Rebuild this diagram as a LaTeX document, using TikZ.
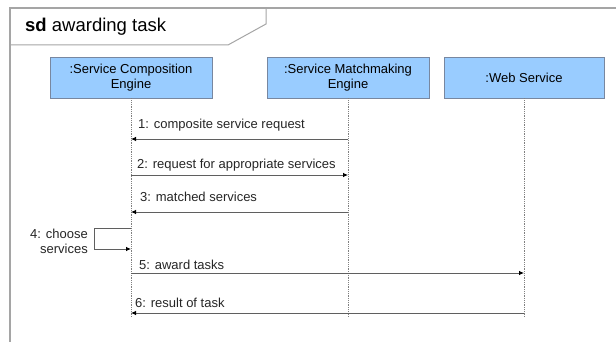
\documentclass[tikz,border=0pt]{standalone}
\usepackage{fontspec}
\setmainfont{Liberation Sans}
\usetikzlibrary{arrows.meta}
\definecolor{boxfill}{RGB}{153,204,255}
\definecolor{boxdraw}{RGB}{120,135,160}
\definecolor{framec}{RGB}{165,165,165}
\definecolor{msgc}{RGB}{95,95,95}
\begin{document}
\begin{tikzpicture}[x=1pt,y=-1pt,
  lifebox/.style={draw=boxdraw, fill=boxfill, minimum width=162pt, minimum height=41pt, align=center, font=\fontsize{13}{15}\selectfont, inner sep=0pt, line width=0.8pt},
  lifeline/.style={draw=gray, densely dotted, line width=0.8pt},
  msg/.style={draw=msgc, line width=0.8pt, -{Latex[length=5pt,width=4.5pt,color=black]}},
  lbl/.style={font=\fontsize{13}{15}\selectfont, inner sep=0pt, text=black!85}]
\useasboundingbox (0,0) rectangle (616,342);
\fill[white] (0,0) rectangle (616,342);
\begin{scope}
\clip (0,0) rectangle (616,342);
\draw[framec, line width=1.5pt] (10,346) -- (10,8) -- (622,8);
\end{scope}
\draw[framec, line width=1pt] (10,45) -- (228,45) -- (266,24) -- (266,8);
\node[anchor=base west, inner sep=0pt, font=\fontsize{18.5}{20}\selectfont] (title) at (25,32) {\textbf{sd} awarding task};
% lifeline heads
\node[lifebox] (sce) at (131,77.5) {:Service Composition\\Engine};
\node[lifebox] (sme) at (348,77.5) {:Service Matchmaking\\Engine};
\node[lifebox, minimum width=160pt] (ws) at (524,77.5) {:Web Service};
% lifeline ends
\coordinate (sceend) at (131,317);
\coordinate (smeend) at (348,317);
\coordinate (wsend) at (524,317);
\draw[lifeline] (sce.south) -- (sceend);
\draw[lifeline] (sme.south) -- (smeend);
\draw[lifeline] (ws.south) -- (wsend);
% message points
\coordinate (a1) at (131,139); \coordinate (b1) at (348,139);
\coordinate (a2) at (131,175); \coordinate (b2) at (348,175);
\coordinate (a3) at (131,212); \coordinate (b3) at (348,212);
\coordinate (s4a) at (131,228); \coordinate (s4b) at (131,249);
\coordinate (a5) at (131,273); \coordinate (c5) at (524,273);
\coordinate (a6) at (131,313); \coordinate (c6) at (524,313);
\draw[msg] (b1) -- (a1);
\draw[msg] (a2) -- (b2);
\draw[msg] (b3) -- (a3);
\draw[msg] (s4a) -- (94,228) -- (94,249) -- (s4b);
\draw[msg] (a5) -- (c5);
\draw[msg] (c6) -- (a6);
% labels
\node[lbl, anchor=base west] (t1) at (138,129) {1: composite service request};
\node[lbl, anchor=base west] (t2) at (137,168) {2: request for appropriate services};
\node[lbl, anchor=base west] (t3) at (140,201) {3: matched services};
\node[lbl, anchor=base east, align=right] (t4a) at (88,238) {4: choose};
\node[lbl, anchor=base east, align=right] (t4b) at (88,253) {services};
\node[lbl, anchor=base west] (t5) at (139,269) {5: award tasks};
\node[lbl, anchor=base west] (t6) at (135,307) {6: result of task};
\end{tikzpicture}
\end{document}
